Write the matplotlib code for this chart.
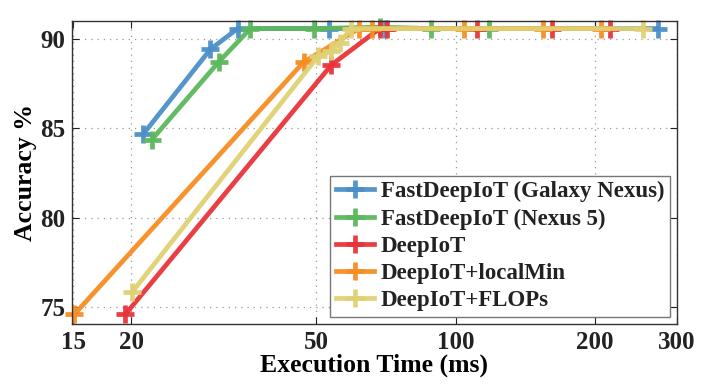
import numpy as np
import matplotlib
matplotlib.use('Agg')
import matplotlib.pyplot as plt
from matplotlib.ticker import FixedLocator, NullLocator

# data (x: execution time in ms, y: accuracy in %)
galaxy_x = [21.2, 29.6, 33.9, 53.3, 70.3, 272.6]
galaxy_y = [84.67, 89.42, 90.58, 90.58, 90.58, 90.58]

nexus5_x = [22.1, 30.9, 36.1, 49.5, 68.6, 88.5, 118.2]
nexus5_y = [84.35, 88.73, 90.58, 90.58, 90.66, 90.58, 90.58]

deepiot_x = [19.4, 54.0, 68.6, 71.2, 111.0, 161.5, 215.6]
deepiot_y = [74.59, 88.55, 90.58, 90.58, 90.58, 90.58, 90.58]

localmin_x = [15.06, 47.0, 61.9, 65.9, 104.4, 154.6, 206.0]
localmin_y = [74.59, 88.7, 90.58, 90.58, 90.58, 90.58, 90.58]

flops_x = [20.1, 50.5, 54.0, 56.3, 59.4, 253.0]
flops_y = [75.86, 89.03, 89.31, 89.78, 90.58, 90.58]

labels = ['FastDeepIoT (Galaxy Nexus)', 'FastDeepIoT (Nexus 5)', 'DeepIoT',
          'DeepIoT+localMin', 'DeepIoT+FLOPs']
colors = ['#4b8fc8', '#5cb85c', '#e8333a', '#f78d22', '#dfd173']

x_ticks = [15, 20, 50, 100, 200, 300]
y_ticks = [75, 80, 85, 90]

plt.rcParams['font.family'] = ['Liberation Serif', 'DejaVu Serif']
plt.rcParams['font.weight'] = 'bold'

fig = plt.figure(figsize=(7.14, 3.9), dpi=100)
ax = fig.add_axes([0.101, 0.169, 0.847, 0.777])

series = [(galaxy_x, galaxy_y), (nexus5_x, nexus5_y), (deepiot_x, deepiot_y),
          (localmin_x, localmin_y), (flops_x, flops_y)]
for (xs, ys), lab, col in zip(series, labels, colors):
    ax.plot(xs, ys, color=col, lw=3.4, marker='+', ms=13, mew=3.4,
            label=lab, clip_on=False, alpha=0.95)

ax.set_xscale('log')
ax.set_xlim(14.9, 300)
ax.set_ylim(74.05, 91.0)
ax.xaxis.set_major_locator(FixedLocator(x_ticks))
ax.xaxis.set_minor_locator(NullLocator())
ax.set_xticklabels([str(t) for t in x_ticks])
ax.set_yticks(y_ticks)

ax.grid(True, which='major', linestyle=(0, (1, 4)), color='#999999', lw=0.9)
ax.tick_params(direction='in', top=True, right=True, labelsize=18, length=5,
               colors='#222222', pad=5)
for s in ax.spines.values():
    s.set_color('#333333')
    s.set_linewidth(1.0)

ax.set_xlabel('Execution Time (ms)', fontsize=18.5, fontweight='bold', labelpad=0)
ax.set_ylabel('Accuracy %', fontsize=18.5, fontweight='bold', labelpad=2)

leg = ax.legend(loc='lower right', fontsize=16.5, fancybox=False, framealpha=1,
                edgecolor='#777777', handlelength=1.65, handletextpad=0.3,
                borderaxespad=0.3, labelspacing=0.27, borderpad=0.25)
leg.get_frame().set_linewidth(1.0)
for t in leg.get_texts():
    t.set_color('#222222')

fig.savefig('out.png', dpi=100)
